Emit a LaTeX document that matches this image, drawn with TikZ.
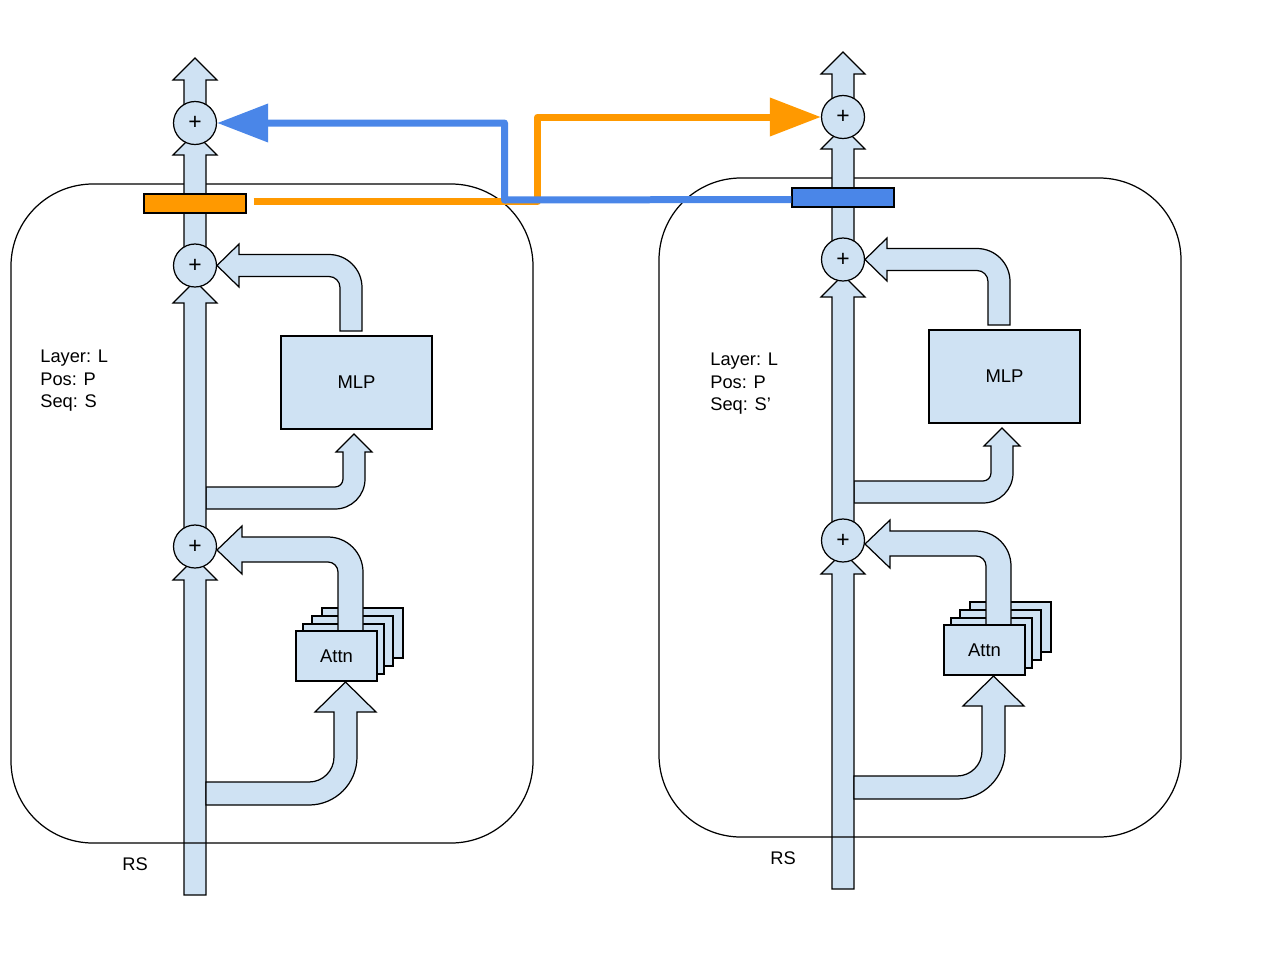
\documentclass[tikz,border=0pt]{standalone}
\usepackage{fontspec}
\setmainfont{Liberation Sans}
\usetikzlibrary{arrows.meta}
\definecolor{lblue}{HTML}{CFE2F3}
\definecolor{orng}{HTML}{FF9900}
\definecolor{blu}{HTML}{4A86E8}
% one straight piece of the residual stream: bottom, head base, tip
\newcommand{\rsarrow}[3]{\draw[pipe] (184,#1) -- (184,#2) -- (173,#2) -- (195,#3) -- (217,#2) -- (206,#2) -- (206,#1) -- cycle;}

\begin{document}
\begin{tikzpicture}[x=0.02cm,y=-0.02cm,
  pipe/.style={draw,fill=lblue,line width=0.7pt},
  plus/.style={circle,draw,fill=lblue,line width=0.7pt,minimum size=0.86cm,inner sep=0pt,font=\fontsize{13}{15}\selectfont},
  blk/.style={draw,fill=lblue,line width=0.7pt,inner sep=0pt,font=\fontsize{10.5}{12}\selectfont},
  pbar/.style={draw,line width=0.7pt,minimum width=2.04cm,minimum height=0.38cm,inner sep=0pt},
  lbl/.style={font=\fontsize{10.4}{12.75}\selectfont,align=left,inner sep=0pt},
  lnk/.style={line width=0.14cm,line join=round,-{Triangle[length=1.02cm,width=0.74cm]}}]
\useasboundingbox (0,0) rectangle (1280,960);

\foreach \c/\dx/\dy/\bc in {L/0/0/orng, R/648/-6/blu} {
\begin{scope}[shift={(\dx,\dy)}]
\rsarrow{895}{580}{558}
\draw[line width=0.7pt,rounded corners=1.64cm] (11,184) rectangle (533,843);
% into attn
\draw[pipe] (206,782) -- (309,782) .. controls (322.8,782) and (334,770.8) .. (334,757)
  -- (334,712) -- (315,712) -- (345.5,682) -- (376,712) -- (357,712) -- (357,757)
  .. controls (357,783.5) and (335.5,805) .. (309,805) -- (206,805) -- cycle;
% into mlp
\draw[pipe] (206,487) -- (335,487) .. controls (339.4,487) and (343,483.4) .. (343,479)
  -- (343,452) -- (336,452) -- (354,434) -- (372,452) -- (365,452) -- (365,479)
  .. controls (365,495.6) and (351.6,509) .. (335,509) -- (206,509) -- cycle;
\rsarrow{546}{303}{281}
\rsarrow{265}{155}{133}
\rsarrow{123}{80}{58}
% attn heads
\foreach \k/\ox/\oy in {3/26/-23, 2/16/-15, 1/7/-7}
  \node[blk,minimum width=1.62cm,minimum height=1cm] (\c h\k) at (336.5+\ox,656+\oy) {};
\draw[pipe] (338,640) -- (338,572) .. controls (338,566.5) and (333.5,562) .. (328,562)
  -- (242,562) -- (242,574) -- (217,550) -- (242,526) -- (242,537) -- (328,537)
  .. controls (347.3,537) and (363,552.7) .. (363,572) -- (363,640) -- cycle;
\node[blk,minimum width=1.62cm,minimum height=1cm] (\c attn) at (336.5,656) {Attn};
\node[blk,minimum width=3.02cm,minimum height=1.86cm] (\c mlp) at (356.5,382.5) {MLP};
\draw[pipe] (340,331) -- (340,287.5) .. controls (340,281.4) and (335.1,276.5) .. (329,276.5)
  -- (239,276.5) -- (239,287) -- (217,265.5) -- (239,244) -- (239,254.5) -- (329,254.5)
  .. controls (347.2,254.5) and (362,269.3) .. (362,287.5) -- (362,331) -- cycle;
\node[plus] (\c a) at (195,546.5) {+};
\node[plus] (\c m) at (195,265.5) {+};
\node[plus] (\c o) at (195,123) {+};
\node[pbar,fill=\bc] (\c bar) at (195,203.5) {};
\node[lbl] (\c rs) at (135,864) {RS};
\end{scope}}

\node[lbl,anchor=west] (Linfo) at (40,381) {Layer: L\\Pos: P\\Seq: S};
\node[lbl,anchor=west] (Rinfo) at (710,384) {Layer: L\\Pos: P\\Seq: S’};

\coordinate (oturn) at (537.5,201.5);
\coordinate (bturn) at (504.5,200);
\draw[lnk,orng,shorten <=0.14cm] (Lbar.east) ++(0,-2) -- (oturn) |- (Ro.west);
\draw[lnk,blu] (Rbar.west) ++(0,2) -- (bturn) |- (Lo.east);
\end{tikzpicture}
\end{document}
